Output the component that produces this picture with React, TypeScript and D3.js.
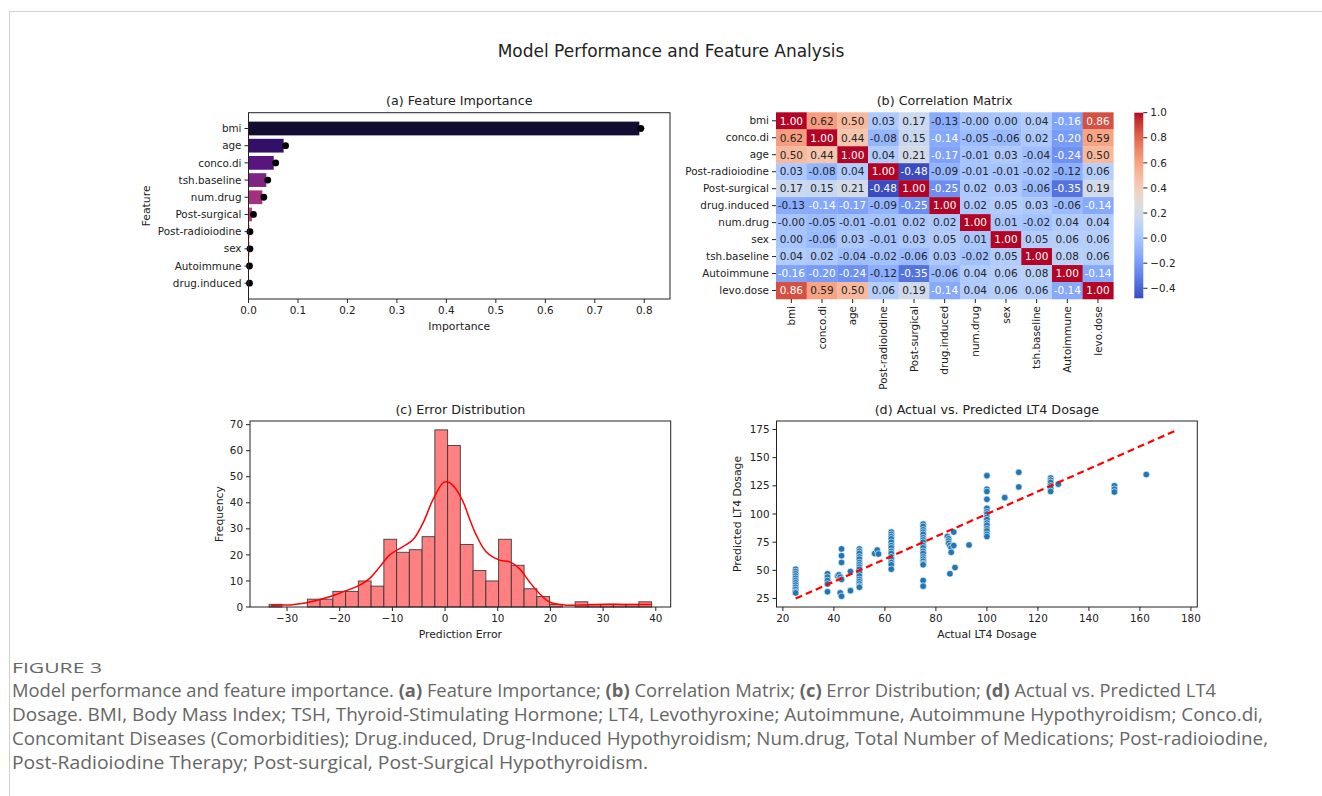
import React from "react";
import * as d3 from "d3";

// ---- (a) feature importance
const features = ["bmi", "age", "conco.di", "tsh.baseline", "num.drug", "Post-surgical", "Post-radioiodine", "sex", "Autoimmune", "drug.induced"];
const importance = [0.79, 0.071, 0.051, 0.036, 0.028, 0.007, 0.002, 0.002, 0.001, 0.001];
const importanceDot = [0.793, 0.075, 0.055, 0.039, 0.031, 0.01, 0.003, 0.003, 0.002, 0.002];
const importanceErr = [0.007, 0.003, 0.003, 0.003, 0.003, 0.002, 0.001, 0.001, 0.001, 0.001];
const importanceTicks = [0, 0.1, 0.2, 0.3, 0.4, 0.5, 0.6, 0.7, 0.8];

// ---- (b) correlation matrix
const corrLabels = ["bmi", "conco.di", "age", "Post-radioiodine", "Post-surgical", "drug.induced", "num.drug", "sex", "tsh.baseline", "Autoimmune", "levo.dose"];
const corrValues = [
  [1.0, 0.62, 0.5, 0.03, 0.17, -0.13, -0.004, 0.0, 0.04, -0.16, 0.86],
  [0.62, 1.0, 0.44, -0.08, 0.15, -0.14, -0.05, -0.06, 0.02, -0.2, 0.59],
  [0.5, 0.44, 1.0, 0.04, 0.21, -0.17, -0.01, 0.03, -0.04, -0.24, 0.5],
  [0.03, -0.08, 0.04, 1.0, -0.48, -0.09, -0.01, -0.01, -0.02, -0.12, 0.06],
  [0.17, 0.15, 0.21, -0.48, 1.0, -0.25, 0.02, 0.03, -0.06, -0.35, 0.19],
  [-0.13, -0.14, -0.17, -0.09, -0.25, 1.0, 0.02, 0.05, 0.03, -0.06, -0.14],
  [-0.004, -0.05, -0.01, -0.01, 0.02, 0.02, 1.0, 0.01, -0.02, 0.04, 0.04],
  [0.0, -0.06, 0.03, -0.01, 0.03, 0.05, 0.01, 1.0, 0.05, 0.06, 0.06],
  [0.04, 0.02, -0.04, -0.02, -0.06, 0.03, -0.02, 0.05, 1.0, 0.08, 0.06],
  [-0.16, -0.2, -0.24, -0.12, -0.35, -0.06, 0.04, 0.06, 0.08, 1.0, -0.14],
  [0.86, 0.59, 0.5, 0.06, 0.19, -0.14, 0.04, 0.06, 0.06, -0.14, 1.0],
];
const cbarTicks = [1.0, 0.8, 0.6, 0.4, 0.2, 0.0, -0.2, -0.4];

// ---- (c) error distribution
const errBinStart = -33.4;
const errBinWidth = 2.42;
const errCounts = [1, 0, 0, 3, 3, 6, 6, 10, 8, 26, 21, 22, 27, 68, 62, 24, 14, 10, 26, 16, 7, 4, 1, 0, 2, 1, 1, 1, 1, 2];
const kdeX = [-33, -32.6, -29, -26.3, -21.9, -19.4, -16.2, -14.3, -12.4, -10.5, -8, -6.1, -4.2, -2.3, -0.4, 0.5, 1.8, 3.4, 4.6, 5.9, 7.8, 10.3, 12.2, 14.1, 16, 17.9, 19.8, 22.9, 26, 29.3, 34, 39.2];
const kdeY = [0.45, 0.6, 0.9, 1.6, 3.9, 5.8, 8.4, 11, 15.4, 20, 23.2, 25.8, 32.2, 41.2, 47.6, 48, 46, 40.5, 34.1, 27.7, 21.2, 18, 17.4, 14.8, 9.7, 5.2, 1.9, 0.7, 0.8, 1.0, 1.0, 1.0];
const errXTicks = [-30, -20, -10, 0, 10, 20, 30, 40];
const errYTicks = [0, 10, 20, 30, 40, 50, 60, 70];

// ---- (d) actual vs predicted
const actualDose = [
  25, 25, 25, 25, 25, 25, 25, 25, 25, 25, 25, 25,
  37.5, 37.5, 37.5, 37.5, 37.5,
  41.5, 42, 42.5, 43, 43, 43, 43, 42.5, 43,
  46.5, 46.5,
  50, 50, 50, 50, 50, 50, 50, 50, 50, 50, 50, 50, 50, 50, 50, 50,
  56, 57, 57.5,
  62.5, 62.5, 62.5, 62.5, 62.5, 62.5, 62.5, 62.5, 62.5, 62.5, 62.5, 62.5, 62.5, 62.5,
  75, 75, 75, 75, 75, 75, 75, 75, 75, 75, 75, 75, 75, 75, 75, 75, 75, 75, 75,
  84.5, 85, 85, 85, 85.5, 86, 86, 85.5, 87, 87, 87.5,
  93,
  100, 100, 100, 100, 100, 100, 100, 100, 100, 100, 100, 100, 100, 100, 100,
  107, 112.5, 112.5,
  125, 125, 125, 125, 125, 125, 128,
  150, 150, 150, 162.5,
];
const predictedDose = [
  51, 49, 47, 45, 43, 41, 39, 37, 35, 33, 31, 30,
  47, 44, 41, 38, 31,
  45, 46, 44, 42, 69, 63, 57, 30, 27,
  49, 32,
  69, 67, 65, 62, 60, 57, 55, 53, 51, 48, 45, 42, 40, 38, 36, 35,
  65, 68, 64.5,
  84, 82, 80, 78, 75, 72, 70, 67, 65, 62, 60, 57, 55, 51,
  91, 89, 86, 84, 82, 79, 77, 75, 72, 70, 67, 65, 62, 60, 58, 56, 55, 41, 36,
  80, 78, 76, 74, 72, 70, 66, 47, 84, 72, 52.5,
  72.5,
  134, 122, 120, 113, 105, 102, 100, 97, 95, 92, 90, 87, 85, 82, 80,
  114.5, 137, 124,
  132, 130, 128, 125, 123, 120, 126.5,
  125, 122, 119.5, 135,
];
const idealLine = [25, 175];
const doseXTicks = [20, 40, 60, 80, 100, 120, 140, 160, 180];
const doseYTicks = [25, 50, 75, 100, 125, 150, 175];

const FONT = "'DejaVu Sans', sans-serif";
const INK = "#222";
const TICK = 10.4;
const LABEL = 10.8;
const TITLE = 12.7;
const minus = (s: string) => s.replace("-", "\u2212");

// matplotlib coolwarm (Moreland) control points
const coolwarmRGB = [
  [59, 76, 192], [68, 90, 204], [77, 104, 215], [87, 117, 225], [98, 130, 234], [108, 142, 241],
  [119, 154, 247], [130, 165, 251], [141, 176, 254], [152, 185, 255], [163, 194, 255], [174, 201, 253],
  [184, 208, 249], [194, 213, 244], [204, 217, 238], [213, 219, 230], [221, 221, 221], [229, 216, 209],
  [236, 211, 197], [241, 204, 184], [245, 196, 173], [247, 187, 160], [247, 177, 148], [247, 166, 135],
  [244, 154, 123], [241, 141, 111], [236, 127, 99], [229, 112, 88], [222, 96, 77], [213, 80, 66],
  [203, 62, 56], [192, 40, 47], [180, 4, 38],
];
const coolwarm = d3
  .scaleLinear<string>()
  .domain(coolwarmRGB.map((_, i) => i / (coolwarmRGB.length - 1)))
  .range(coolwarmRGB.map((c) => `rgb(${c[0]},${c[1]},${c[2]})`))
  .interpolate(d3.interpolateRgb)
  .clamp(true);

function luminance(color: string) {
  const c = d3.rgb(color);
  const lin = (v: number) => {
    v = v / 255;
    return v <= 0.03928 ? v / 12.92 : Math.pow((v + 0.055) / 1.055, 2.4);
  };
  return 0.2126 * lin(c.r) + 0.7152 * lin(c.g) + 0.0722 * lin(c.b);
}

function Frame({ l, r, t, b }: { l: number; r: number; t: number; b: number }) {
  return <rect x={l} y={t} width={r - l} height={b - t} fill="none" stroke={INK} strokeWidth={1} />;
}

function FeatureImportance() {
  const l = 248.5, r = 670, t = 112.7, b = 299;
  const x = d3.scaleLinear().domain([0, 0.852]).range([l, r]);
  const y = d3.scaleBand().domain(features).range([t + 7.2, b - 7.2]).paddingInner(0.2).paddingOuter(0.1);
  const yc = (f: string) => (y(f) as number) + y.bandwidth() / 2;
  const color = (i: number) => d3.interpolateMagma((i + 1) / (features.length + 1));
  return (
    <g fontFamily={FONT}>
      <text x={(l + r) / 2} y={105} textAnchor="middle" fontSize={TITLE} fill={INK}>(a) Feature Importance</text>
      {features.map((f, i) => (
        <rect key={f} x={x(0)} y={y(f)} width={x(importance[i]) - x(0)} height={y.bandwidth()} fill={color(i)} />
      ))}
      {features.map((f, i) => (
        <g key={f + "e"}>
          <line x1={x(importanceDot[i] - importanceErr[i])} x2={x(importanceDot[i] + importanceErr[i])} y1={yc(f)} y2={yc(f)} stroke="#000" strokeWidth={1.5} />
          <circle cx={x(importanceDot[i])} cy={yc(f)} r={3.4} fill="#000" />
        </g>
      ))}
      <Frame l={l} r={r} t={t} b={b} />
      {features.map((f) => (
        <g key={f + "t"}>
          <line x1={l - 4} x2={l} y1={yc(f)} y2={yc(f)} stroke={INK} />
          <text x={l - 7} y={yc(f)} dy="0.35em" textAnchor="end" fontSize={TICK} fill={INK}>{f}</text>
        </g>
      ))}
      {importanceTicks.map((v) => (
        <g key={v}>
          <line x1={x(v)} x2={x(v)} y1={b} y2={b + 4} stroke={INK} />
          <text x={x(v)} y={b + 15} textAnchor="middle" fontSize={TICK} fill={INK}>{v.toFixed(1)}</text>
        </g>
      ))}
      <text x={(l + r) / 2} y={330} textAnchor="middle" fontSize={LABEL} fill={INK}>Importance</text>
      <text transform={`translate(150,${(t + b) / 2}) rotate(-90)`} textAnchor="middle" fontSize={LABEL} fill={INK}>Feature</text>
    </g>
  );
}

function CorrelationMatrix() {
  const l = 776, r = 1113.3, t = 112.3, b = 299;
  const x = d3.scaleBand().domain(corrLabels).range([l, r]);
  const y = d3.scaleBand().domain(corrLabels).range([t, b]);
  const vmin = d3.min(corrValues.flat()) as number;
  const vmax = d3.max(corrValues.flat()) as number;
  const norm = d3.scaleLinear().domain([vmin, vmax]).range([0, 1]);
  const cl = 1134.3, cr = 1143.3, ct = 112.7, cb = 298.3;
  const cy = d3.scaleLinear().domain([vmin, vmax]).range([cb, ct]);
  const stops = d3.range(0, 1.0001, 1 / 32);
  return (
    <g fontFamily={FONT}>
      <defs>
        <linearGradient id="cw" x1="0" y1="1" x2="0" y2="0">
          {stops.map((s) => (
            <stop key={s} offset={s} stopColor={coolwarm(s)} />
          ))}
        </linearGradient>
      </defs>
      <text x={(l + r) / 2} y={105} textAnchor="middle" fontSize={TITLE} fill={INK}>(b) Correlation Matrix</text>
      {corrValues.map((row, i) =>
        row.map((v, j) => {
          const fill = coolwarm(norm(v));
          const txt = luminance(fill) > 0.408 ? "#262626" : "#fff";
          const cx = (x(corrLabels[j]) as number) + x.bandwidth() / 2;
          const cyy = (y(corrLabels[i]) as number) + y.bandwidth() / 2;
          return (
            <g key={i + "-" + j}>
              <rect x={x(corrLabels[j])} y={y(corrLabels[i])} width={x.bandwidth() + 0.3} height={y.bandwidth() + 0.3} fill={fill} />
              <text x={cx} y={cyy} dy="0.36em" textAnchor="middle" fontSize={10.5} fill={txt}>{v.toFixed(2)}</text>
            </g>
          );
        })
      )}
      {corrLabels.map((f) => {
        const yy = (y(f) as number) + y.bandwidth() / 2;
        const xx = (x(f) as number) + x.bandwidth() / 2;
        return (
          <g key={f}>
            <line x1={l - 4} x2={l} y1={yy} y2={yy} stroke={INK} />
            <text x={l - 7} y={yy} dy="0.35em" textAnchor="end" fontSize={TICK} fill={INK}>{f}</text>
            <line x1={xx} x2={xx} y1={b} y2={b + 4} stroke={INK} />
            <text transform={`translate(${xx},${b + 7}) rotate(-90)`} dy="0.35em" textAnchor="end" fontSize={TICK} fill={INK}>{f}</text>
          </g>
        );
      })}
      <rect x={cl} y={ct} width={cr - cl} height={cb - ct} fill="url(#cw)" />
      {cbarTicks.map((v) => (
        <g key={v}>
          <line x1={cr} x2={cr + 4} y1={cy(v)} y2={cy(v)} stroke={INK} />
          <text x={cr + 7} y={cy(v)} dy="0.35em" fontSize={TICK} fill={INK}>{minus(v.toFixed(1))}</text>
        </g>
      ))}
    </g>
  );
}

function ErrorDistribution() {
  const l = 250, r = 670.7, t = 421, b = 607;
  const edges = d3.range(errCounts.length + 1).map((i) => errBinStart + i * errBinWidth);
  const lo = edges[0], hi = edges[edges.length - 1];
  const pad = (hi - lo) * 0.05;
  const x = d3.scaleLinear().domain([lo - pad, hi + pad]).range([l, r]);
  const y = d3.scaleLinear().domain([0, (d3.max(errCounts) as number) * 1.05]).range([b, t]);
  const kde = d3
    .line<number>()
    .x((_, i) => x(kdeX[i]))
    .y((d) => y(d))
    .curve(d3.curveCatmullRom.alpha(0.5));
  return (
    <g fontFamily={FONT}>
      <text x={(l + r) / 2} y={414} textAnchor="middle" fontSize={TITLE} fill={INK}>(c) Error Distribution</text>
      {errCounts.map((c, i) =>
        c > 0 ? (
          <rect key={i} x={x(edges[i])} y={y(c)} width={x(edges[i + 1]) - x(edges[i])} height={y(0) - y(c)} fill="#ff8080" stroke="#333" strokeOpacity={0.85} strokeWidth={1} />
        ) : null
      )}
      <path d={kde(kdeY) || ""} fill="none" stroke="#ff0000" strokeWidth={1.5} />
      <Frame l={l} r={r} t={t} b={b} />
      {errXTicks.map((v) => (
        <g key={v}>
          <line x1={x(v)} x2={x(v)} y1={b} y2={b + 4} stroke={INK} />
          <text x={x(v)} y={b + 15} textAnchor="middle" fontSize={TICK} fill={INK}>{minus(String(v))}</text>
        </g>
      ))}
      {errYTicks.map((v) => (
        <g key={v}>
          <line x1={l - 4} x2={l} y1={y(v)} y2={y(v)} stroke={INK} />
          <text x={l - 7} y={y(v)} dy="0.35em" textAnchor="end" fontSize={TICK} fill={INK}>{v}</text>
        </g>
      ))}
      <text x={(l + r) / 2} y={638} textAnchor="middle" fontSize={LABEL} fill={INK}>Prediction Error</text>
      <text transform={`translate(223,${(t + b) / 2}) rotate(-90)`} textAnchor="middle" fontSize={LABEL} fill={INK}>Frequency</text>
    </g>
  );
}

function ActualVsPredicted() {
  const l = 776.5, r = 1197.3, t = 421, b = 607;
  const x = d3.scaleLinear().domain([17.5, 182.5]).range([l, r]);
  const y = d3.scaleLinear().domain([17.5, 182.5]).range([b, t]);
  return (
    <g fontFamily={FONT}>
      <text x={(l + r) / 2} y={414} textAnchor="middle" fontSize={TITLE} fill={INK}>(d) Actual vs. Predicted LT4 Dosage</text>
      {actualDose.map((a, i) => (
        <circle key={i} cx={x(a)} cy={y(predictedDose[i])} r={3.3} fill="#1f77b4" stroke="#fff" strokeWidth={0.6} />
      ))}
      <line x1={x(idealLine[0])} y1={y(idealLine[0])} x2={x(idealLine[1])} y2={y(idealLine[1])} stroke="#ff0000" strokeWidth={2.2} strokeDasharray="7,4" />
      <Frame l={l} r={r} t={t} b={b} />
      {doseXTicks.map((v) => (
        <g key={v}>
          <line x1={x(v)} x2={x(v)} y1={b} y2={b + 4} stroke={INK} />
          <text x={x(v)} y={b + 15} textAnchor="middle" fontSize={TICK} fill={INK}>{v}</text>
        </g>
      ))}
      {doseYTicks.map((v) => (
        <g key={v}>
          <line x1={l - 4} x2={l} y1={y(v)} y2={y(v)} stroke={INK} />
          <text x={l - 7} y={y(v)} dy="0.35em" textAnchor="end" fontSize={TICK} fill={INK}>{v}</text>
        </g>
      ))}
      <text x={(l + r) / 2} y={638} textAnchor="middle" fontSize={LABEL} fill={INK}>Actual LT4 Dosage</text>
      <text transform={`translate(741,${(t + b) / 2}) rotate(-90)`} textAnchor="middle" fontSize={LABEL} fill={INK}>Predicted LT4 Dosage</text>
    </g>
  );
}

function Caption() {
  const f = "'Open Sans', sans-serif";
  const c = "#666";
  const B = ({ children }: { children: React.ReactNode }) => <tspan fontWeight={700}>{children}</tspan>;
  const fs = 18;
  return (
    <g fontFamily={f} fill={c}>
      <text x={12} y={673} fontSize={14} textLength={90} lengthAdjust="spacingAndGlyphs">FIGURE 3</text>
      <text x={12} y={697} fontSize={fs} textLength={1204} lengthAdjust="spacingAndGlyphs">
        Model performance and feature importance. <B>(a)</B> Feature Importance; <B>(b)</B> Correlation Matrix; <B>(c)</B> Error Distribution; <B>(d)</B> Actual vs. Predicted LT4
      </text>
      <text x={12} y={721} fontSize={fs} textLength={1251} lengthAdjust="spacingAndGlyphs">
        Dosage. BMI, Body Mass Index; TSH, Thyroid-Stimulating Hormone; LT4, Levothyroxine; Autoimmune, Autoimmune Hypothyroidism; Conco.di,
      </text>
      <text x={12} y={745} fontSize={fs} textLength={1256} lengthAdjust="spacingAndGlyphs">
        Concomitant Diseases (Comorbidities); Drug.induced, Drug-Induced Hypothyroidism; Num.drug, Total Number of Medications; Post-radioiodine,
      </text>
      <text x={12} y={769} fontSize={fs} textLength={636} lengthAdjust="spacingAndGlyphs">
        Post-Radioiodine Therapy; Post-surgical, Post-Surgical Hypothyroidism.
      </text>
    </g>
  );
}

export default function App() {
  return (
    <svg width={1322} height={796} style={{ position: "absolute", left: 0, top: 0, background: "#fff" }}>
      <rect width={1322} height={796} fill="#fff" />
      <line x1={9} x2={1322} y1={11.5} y2={11.5} stroke="#d0d0d0" />
      <line x1={9.5} x2={9.5} y1={11} y2={796} stroke="#d0d0d0" />
      <text x={671} y={57} textAnchor="middle" fontSize={17} fontFamily={FONT} fill={INK}>Model Performance and Feature Analysis</text>
      <FeatureImportance />
      <CorrelationMatrix />
      <ErrorDistribution />
      <ActualVsPredicted />
      <Caption />
    </svg>
  );
}
